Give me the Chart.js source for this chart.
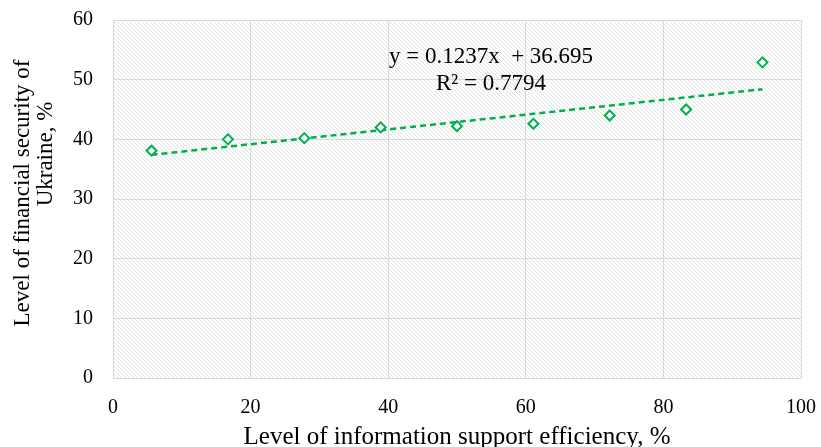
<!DOCTYPE html>
<html>
<head>
<meta charset="utf-8">
<script src="https://cdn.jsdelivr.net/npm/chart.js@4/dist/chart.umd.min.js"></script>
<style>
  body { margin: 0; background: #fff; }
  #chart { display: block; }
</style>
</head>
<body>
<canvas id="chart" width="821" height="447"></canvas>
<script>
// data
const xValues = [5.6, 16.7, 27.8, 38.9, 50, 61.1, 72.2, 83.3, 94.4];
const yValues = [38.1, 40.0, 40.2, 42.0, 42.2, 42.6, 44.0, 45.0, 52.9];
const trendX = [5.6, 94.4];
const trendY = [37.4, 48.4];
const equationLines = ['y = 0.1237x  + 36.695', 'R² = 0.7794'];
const yTitleLines = ['Level of financial security of', 'Ukraine, %'];

const green = '#00b050';
const font = 'Liberation Serif, Times New Roman, serif';

// hatched background for the plot area
function makeHatch() {
    const c = document.createElement('canvas');
    c.width = 4; c.height = 4;
    const g = c.getContext('2d');
    g.fillStyle = '#ffffff';
    g.fillRect(0, 0, 4, 4);
    g.strokeStyle = '#e2e2e2';
    g.lineWidth = 1;
    g.beginPath();
    g.moveTo(-1, -1); g.lineTo(5, 5);
    g.moveTo(-1, 3); g.lineTo(1, 5);
    g.moveTo(3, -1); g.lineTo(5, 1);
    g.stroke();
    return g.createPattern(c, 'repeat');
}

const hatchPlugin = {
    id: 'hatch',
    beforeDraw(chart) {
        const a = chart.chartArea;
        const ctx = chart.ctx;
        ctx.save();
        ctx.fillStyle = makeHatch();
        ctx.fillRect(a.left, a.top, a.right - a.left, a.bottom - a.top);
        ctx.restore();
    }
};

// trendline label and the two-line y axis title
const textPlugin = {
    id: 'texts',
    afterDatasetsDraw(chart) {
        const ctx = chart.ctx;
        const a = chart.chartArea;
        ctx.save();
        ctx.fillStyle = '#000';
        ctx.textAlign = 'center';
        ctx.textBaseline = 'middle';
        ctx.font = '23px ' + font;
        ctx.fillText(equationLines[0], a.left + 378, a.top + 37);
        ctx.fillText(equationLines[1], a.left + 378, a.top + 64);

        ctx.font = '23px ' + font;
        ctx.translate(23, 193);
        ctx.rotate(-Math.PI / 2);
        ctx.fillText(yTitleLines[0], 0, 0);
        ctx.fillText(yTitleLines[1], 39, 23);
        ctx.restore();
    }
};

const ctx = document.getElementById('chart').getContext('2d');
new Chart(ctx, {
    type: 'scatter',
    data: {
        datasets: [{
            label: 'points',
            data: xValues.map((x, i) => ({ x: x, y: yValues[i] })),
            pointStyle: 'rectRot',
            pointRadius: 5,
            pointBorderWidth: 2,
            borderColor: green,
            backgroundColor: '#ffffff'
        }, {
            label: 'trend',
            type: 'line',
            data: trendX.map((x, i) => ({ x: x, y: trendY[i] })),
            borderColor: green,
            borderWidth: 2.5,
            borderDash: [6, 4],
            pointRadius: 0,
            fill: false
        }]
    },
    options: {
        responsive: false,
        animation: false,
        layout: { padding: { top: 20, right: 20, left: 0, bottom: 0 } },
        plugins: {
            legend: { display: false },
            tooltip: { enabled: false }
        },
        scales: {
            x: {
                type: 'linear',
                min: 0, max: 100,
                ticks: { stepSize: 20, color: '#000', font: { family: font, size: 20 }, padding: 0 },
                grid: { color: '#d9d9d9', drawTicks: true, tickLength: 18, tickColor: 'rgba(0,0,0,0)' },
                border: { color: '#d9d9d9' },
                title: {
                    display: true,
                    text: 'Level of information support efficiency, %',
                    color: '#000',
                    font: { family: font, size: 25, lineHeight: 0.8 },
                    padding: { top: 0, bottom: 0 }
                },
                afterFit(scale) { scale.height = 69; }
            },
            y: {
                min: 0, max: 60,
                ticks: { stepSize: 10, color: '#000', font: { family: font, size: 20 }, padding: 0 },
                grid: { color: '#d9d9d9', drawTicks: true, tickLength: 20, tickColor: 'rgba(0,0,0,0)' },
                border: { color: '#d9d9d9' },
                title: { display: false },
                afterFit(scale) { scale.width = 113; }
            }
        }
    },
    plugins: [hatchPlugin, textPlugin]
});
</script>
</body>
</html>
